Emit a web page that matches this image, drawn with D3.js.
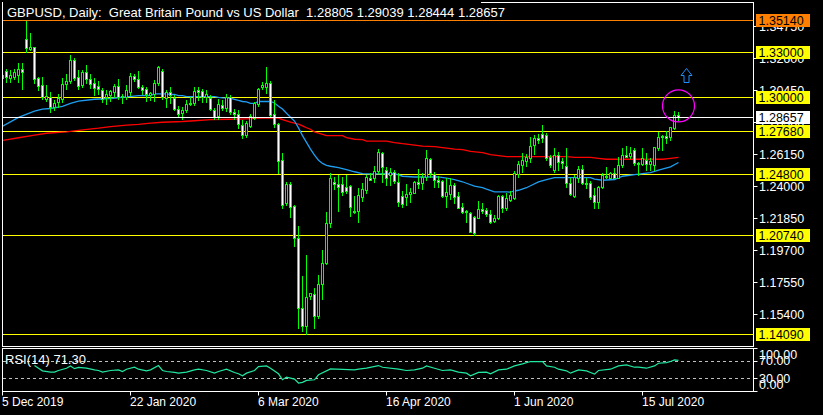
<!DOCTYPE html>
<html><head><meta charset="utf-8">
<script src="https://cdn.jsdelivr.net/npm/d3@7"></script>
<style>
html,body{margin:0;padding:0;background:#000;}
svg{display:block;}
text{font-family:"Liberation Sans",Arial,sans-serif;}
</style></head><body>
<svg id="chart" width="823" height="415"></svg>
<script>
// ---------- DATA ----------
const symbolTitle = "GBPUSD, Daily:  Great Britain Pound vs US Dollar";
const opens = [1.3127,1.3174,1.3127,1.3136,1.3148,1.3192,1.3393,1.3326,1.3333,1.3129,1.3081,1.2987,1.3002,1.2935,1.2965,1.2991,1.3087,1.3109,1.3248,1.3136,
1.3081,1.3166,1.3119,1.3092,1.3074,1.3047,1.3000,1.3014,1.3032,1.3074,1.3007,1.3002,1.3032,1.3141,1.3121,1.3069,1.3052,1.3014,1.3020,1.3092,
1.3174,1.2995,1.3032,1.2995,1.2924,1.2891,1.2913,1.2951,1.2958,1.3047,1.3040,1.3000,1.2995,1.2913,1.2875,1.2947,1.2928,1.3002,1.2898,1.2884,
1.2813,1.2746,1.2808,1.2861,1.2951,1.3069,1.3069,1.3092,1.2884,1.2817,1.2578,1.2292,1.2417,1.2270,1.2057,1.1584,1.1468,1.1667,1.1678,1.1535,
1.1745,1.1886,1.2154,1.2429,1.2415,1.2415,1.2395,1.2404,1.2238,1.2238,1.2332,1.2377,1.2455,1.2455,1.2504,1.2623,1.2511,1.2478,1.2500,1.2429,
1.2337,1.2332,1.2348,1.2359,1.2429,1.2422,1.2466,1.2583,1.2482,1.2444,1.2437,1.2339,1.2348,1.2410,1.2337,1.2261,1.2228,1.2221,1.2198,1.2191,
1.2247,1.2243,1.2216,1.2171,1.2187,1.2337,1.2258,1.2310,1.2325,1.2482,1.2544,1.2571,1.2593,1.2679,1.2728,1.2750,1.2746,1.2600,1.2511,1.2611,
1.2571,1.2538,1.2422,1.2339,1.2455,1.2518,1.2422,1.2422,1.2344,1.2298,1.2399,1.2471,1.2459,1.2489,1.2459,1.2544,1.2611,1.2605,1.2645,1.2551,
1.2551,1.2578,1.2551,1.2544,1.2656,1.2741,1.2739,1.2730,1.2790,1.28805];
const highs = [1.3168,1.3188,1.3181,1.3192,1.3226,1.3226,1.3514,1.3429,1.3337,1.3136,1.3134,1.3081,1.3032,1.2980,1.3022,1.3127,1.3154,1.3282,1.3263,1.3181,
1.3181,1.3215,1.3152,1.3129,1.3107,1.3060,1.3047,1.3047,1.3085,1.3121,1.3018,1.3081,1.3159,1.3152,1.3174,1.3081,1.3065,1.3032,1.3114,1.3210,
1.3188,1.3047,1.3069,1.3014,1.2942,1.2935,1.2980,1.3002,1.3065,1.3065,1.3058,1.3047,1.3014,1.2928,1.2987,1.2980,1.3018,1.3014,1.2924,1.2913,
1.2846,1.2839,1.2884,1.2969,1.3062,1.3101,1.3199,1.3109,1.2980,1.2824,1.2623,1.2429,1.2433,1.2277,1.2136,1.1801,1.1942,1.1687,1.1718,1.1808,
1.1975,1.2228,1.2489,1.2466,1.2477,1.2466,1.2477,1.2410,1.2338,1.2389,1.2426,1.2477,1.2489,1.2538,1.2650,1.2634,1.2529,1.2522,1.2511,1.2489,
1.2370,1.2415,1.2389,1.2437,1.2516,1.2489,1.2645,1.2593,1.2500,1.2473,1.2444,1.2455,1.2459,1.2422,1.2366,1.2288,1.2243,1.2228,1.2205,1.2303,
1.2288,1.2258,1.2243,1.2210,1.2344,1.2344,1.2355,1.2370,1.2504,1.2571,1.2623,1.2616,1.2734,1.2746,1.2752,1.2812,1.2759,1.2611,1.2656,1.2631,
1.2591,1.2656,1.2455,1.2477,1.2540,1.2544,1.2455,1.2437,1.2389,1.2405,1.2489,1.2533,1.2496,1.2522,1.2600,1.2656,1.2673,1.2667,1.2660,1.2567,
1.2656,1.2623,1.2589,1.2667,1.2768,1.2746,1.2772,1.2801,1.2906,1.29039];
const lows = [1.3101,1.3101,1.3101,1.3121,1.3103,1.3054,1.3304,1.3315,1.3094,1.3047,1.2987,1.2973,1.2902,1.2913,1.2935,1.2967,1.3054,1.3094,1.3114,1.3054,
1.3069,1.3092,1.3062,1.3014,1.3020,1.2967,1.2953,1.2975,1.3002,1.2991,1.2962,1.2987,1.3014,1.3109,1.3060,1.3018,1.2975,1.2980,1.2975,1.3081,
1.2987,1.2935,1.2960,1.2913,1.2868,1.2857,1.2902,1.2947,1.2947,1.2980,1.2969,1.2969,1.2913,1.2857,1.2857,1.2913,1.2906,1.2884,1.2857,1.2794,
1.2723,1.2734,1.2801,1.2857,1.2942,1.3058,1.3029,1.2864,1.2801,1.2489,1.2254,1.2277,1.2198,1.2002,1.1454,1.1434,1.1410,1.1647,1.1450,1.1517,
1.1645,1.1881,1.2131,1.2382,1.2238,1.2344,1.2355,1.2203,1.2222,1.2165,1.2305,1.2359,1.2444,1.2433,1.2489,1.2433,1.2410,1.2410,1.2422,1.2270,
1.2265,1.2277,1.2298,1.2355,1.2389,1.2384,1.2444,1.2466,1.2399,1.2399,1.2332,1.2265,1.2317,1.2288,1.2254,1.2221,1.2165,1.2094,1.2075,1.2187,
1.2221,1.2205,1.2158,1.2161,1.2183,1.2228,1.2243,1.2303,1.2317,1.2466,1.2500,1.2540,1.2566,1.2616,1.2692,1.2697,1.2578,1.2531,1.2498,1.2511,
1.2524,1.2399,1.2344,1.2332,1.2429,1.2415,1.2389,1.2317,1.2254,1.2258,1.2389,1.2459,1.2455,1.2455,1.2455,1.2533,1.2598,1.2591,1.2544,1.2478,
1.2544,1.2511,1.2511,1.2511,1.2645,1.2645,1.2690,1.2712,1.2784,1.28444];
const closes = [1.3148,1.3134,1.3148,1.3166,1.3192,1.3166,1.3330,1.3337,1.3125,1.3076,1.3002,1.3005,1.2935,1.2962,1.2995,1.3087,1.3109,1.3248,1.3129,1.3076,
1.3166,1.3119,1.3085,1.3062,1.3058,1.2991,1.3022,1.3040,1.3074,1.3002,1.2998,1.3047,1.3143,1.3123,1.3069,1.3047,1.3020,1.3025,1.3092,1.3203,
1.3002,1.3032,1.3014,1.2924,1.2884,1.2913,1.2951,1.2962,1.3040,1.3036,1.3002,1.3020,1.2924,1.2868,1.2951,1.2928,1.3002,1.2898,1.2884,1.2817,
1.2746,1.2824,1.2873,1.2958,1.3052,1.3081,1.3092,1.2880,1.2817,1.2573,1.2277,1.2417,1.2265,1.2057,1.1584,1.1468,1.1662,1.1685,1.1535,1.1745,
1.1886,1.2154,1.2456,1.2417,1.2399,1.2366,1.2372,1.2265,1.2227,1.2344,1.2382,1.2466,1.2448,1.2504,1.2630,1.2529,1.2455,1.2500,1.2439,1.2295,
1.2283,1.2350,1.2366,1.2429,1.2415,1.2466,1.2589,1.2489,1.2444,1.2429,1.2339,1.2362,1.2410,1.2332,1.2258,1.2232,1.2236,1.2098,1.2087,1.2247,
1.2236,1.2214,1.2165,1.2187,1.2339,1.2258,1.2321,1.2344,1.2489,1.2549,1.2578,1.2600,1.2672,1.2728,1.2712,1.2723,1.2591,1.2544,1.2611,1.2564,
1.2556,1.2422,1.2348,1.2466,1.2518,1.2422,1.2415,1.2332,1.2298,1.2399,1.2477,1.2466,1.2489,1.2459,1.2544,1.2611,1.2600,1.2623,1.2556,1.2560,
1.2589,1.2551,1.2573,1.2663,1.2730,1.2730,1.2723,1.2797,1.2880,1.28657];

// moving averages (bar index, value)
const maFastBars = [0,4,8,10,12,15,17,19,23,27,31,34,37,38,41,42,43,44,45,46,53,54,55,57,58,59,60,61,62,63,64,67,68,69,70,71,72,73,74,75,76,77,78,79,80,81,82,84,86,88,90,92,98,100,103,109,111,113,115,116,118,120,121,123,126,127,128,129,131,132,134,136,138,147,148,150,153,155,159,162,164,167,169];
const maFastVals = [1.2805,1.2864,1.2906,1.2920,1.2924,1.2939,1.2958,1.2973,1.2986,1.2991,1.3002,1.3011,1.3011,1.3022,1.3022,1.3018,1.3018,1.3011,1.3011,1.3004,1.3004,1.2998,1.2995,1.2993,1.2986,1.2978,1.2971,1.2968,1.2958,1.2958,1.2971,1.2971,1.2961,1.2939,1.2921,1.2892,1.2866,1.2840,1.2794,1.2742,1.2697,1.2652,1.2611,1.2577,1.2556,1.2543,1.2537,1.2528,1.2515,1.2500,1.2488,1.2486,1.2487,1.2470,1.2465,1.2465,1.2457,1.2447,1.2433,1.2423,1.2403,1.2393,1.2383,1.2365,1.2365,1.2363,1.2371,1.2376,1.2393,1.2406,1.2432,1.2448,1.2461,1.2461,1.2450,1.2443,1.2448,1.2470,1.2484,1.2494,1.2511,1.2533,1.2562];
const maSlowBars = [0,4,8,11,16,19,24,27,31,34,37,40,45,48,52,57,61,64,69,70,71,72,74,75,76,77,78,80,81,85,86,88,90,91,96,98,100,102,105,108,111,113,115,117,120,122,124,126,141,143,147,149,151,165,167,169];
const maSlowVals = [1.2710,1.2728,1.2745,1.2758,1.2767,1.2777,1.2792,1.2803,1.2812,1.2817,1.2826,1.2832,1.2837,1.2842,1.2850,1.2852,1.2855,1.2859,1.2859,1.2850,1.2841,1.2832,1.2819,1.2807,1.2795,1.2785,1.2767,1.2751,1.2742,1.2742,1.2729,1.2718,1.2715,1.2706,1.2706,1.2696,1.2688,1.2682,1.2672,1.2668,1.2659,1.2652,1.2648,1.2637,1.2628,1.2615,1.2608,1.2601,1.2601,1.2597,1.2597,1.2590,1.2584,1.2584,1.2590,1.2597];

// RSI(14) readings
const rsiBars = [8,9,10,12,13,14,16,17,18,19,21,23,24,25,27,29,30,31,33,34,36,37,39,40,41,43,44,46,48,49,51,53,54,56,58,59,60,61,63,64,66,67,69,70,71,72,73,74,75,76,78,79,82,85,88,89,91,94,95,99,101,103,105,106,108,110,112,114,116,117,119,121,122,124,126,128,130,132,135,136,138,139,141,142,144,146,147,148,149,152,154,156,158,159,161,163,164,166,167,168,169];
const rsiVals = [59.2,53.0,46.9,43.8,43.8,47.7,53.0,58.4,52.0,55.0,53.0,49.2,47.7,43.8,47.7,49.2,45.4,50.7,55.3,50.7,46.9,49.2,59.2,47.7,45.4,43.1,41.5,43.8,49.2,50.7,47.7,41.5,45.4,50.7,43.1,40.0,35.4,41.5,47.7,56.9,58.4,53.0,40.0,26.1,32.3,30.0,27.7,18.5,20.0,24.6,26.1,37.7,51.5,50.5,49.2,50.7,53.0,59.2,55.3,50.7,47.7,49.2,53.0,58.4,53.0,47.7,49.2,43.8,41.5,35.4,43.1,43.8,40.0,49.2,50.7,58.4,63.1,68.5,68.5,58.4,55.3,50.7,46.9,41.5,49.2,46.9,43.1,39.2,47.7,50.7,58.4,60.8,55.3,55.3,53.0,58.4,64.6,66.2,68.5,72.3,71.3];
const rsiLabel = "RSI(14) 71.30";
const rsiLevels = [70, 30];
const rsiAxisValues = [100, 70, 30, 0];

// horizontal levels
const highLevel = 1.35140;
const keyLevels = [1.33000, 1.30000, 1.27680, 1.24800, 1.20740, 1.14090];
const priceTicks = [1.34750,1.32600,1.30450,1.28300,1.26150,1.24000,1.21850,1.19700,1.17550,1.15400];

// date axis
const dateBars = [0, 32, 64, 96, 128, 160];
const dateLabels = ["5 Dec 2019","22 Jan 2020","6 Mar 2020","16 Apr 2020","1 Jun 2020","15 Jul 2020"];

// annotations
const arrowBar = 171, arrowPrice = 1.3198;
const circleBar = 169, circlePrice = 1.2941;

// ---------- DRAW ----------
const W = 823, H = 415;
const left = 2.5, right = 753.5, mainTop = 2.5, mainBottom = 346.5, rsiTop = 348.5, rsiBottom = 391.5;
const svg = d3.select("#chart");
svg.append("rect").attr("width", W).attr("height", H).attr("fill", "#000");

const x = d3.scaleLinear().domain([0, 169]).range([2.5, 678.5]);
const y = d3.scaleLinear().domain([1.14090, 1.35140]).range([334.5, 20.5]);
const ry = d3.scaleLinear().domain([0, 100]).range([391, 348]);
const snap = v => Math.floor(v) + 0.5;

const defs = svg.append("defs");
defs.append("clipPath").attr("id", "clipMain").append("rect")
  .attr("x", 3).attr("y", 3).attr("width", 750).attr("height", 343);
defs.append("clipPath").attr("id", "clipRsi").append("rect")
  .attr("x", 3).attr("y", 349).attr("width", 750).attr("height", 42);

// frames
svg.append("rect").attr("x", left).attr("y", mainTop).attr("width", right - left).attr("height", mainBottom - mainTop)
  .attr("fill", "none").attr("stroke", "#fff").attr("stroke-width", 1);
svg.append("rect").attr("x", left).attr("y", rsiTop).attr("width", right - left).attr("height", rsiBottom - rsiTop)
  .attr("fill", "none").attr("stroke", "#fff").attr("stroke-width", 1);

const main = svg.append("g").attr("clip-path", "url(#clipMain)");

// level lines
main.append("line").attr("x1", 3).attr("x2", 753).attr("y1", snap(y(highLevel))).attr("y2", snap(y(highLevel)))
  .attr("stroke", "#ff8000").attr("stroke-width", 1);
main.selectAll("line.lvl").data(keyLevels).join("line").attr("class", "lvl")
  .attr("x1", 3).attr("x2", 753).attr("y1", d => snap(y(d))).attr("y2", d => snap(y(d)))
  .attr("stroke", "#ffff00").attr("stroke-width", 1);

// moving averages
const lineGen = d3.line().x(d => x(d[0])).y(d => y(d[1]));
main.append("path").datum(maSlowBars.map((b, i) => [b, maSlowVals[i]]))
  .attr("d", lineGen).attr("fill", "none").attr("stroke", "#ff0000").attr("stroke-width", 1.3);
main.append("path").datum(maFastBars.map((b, i) => [b, maFastVals[i]]))
  .attr("d", lineGen).attr("fill", "none").attr("stroke", "#1e9ef0").attr("stroke-width", 1.3);

// candles
const bars = d3.range(opens.length).map(i => ({i, o: opens[i], h: highs[i], l: lows[i], c: closes[i]}));
const cg = main.append("g");
cg.selectAll("line.wick").data(bars).join("line").attr("class", "wick")
  .attr("x1", d => x(d.i)).attr("x2", d => x(d.i))
  .attr("y1", d => Math.round(y(d.h))).attr("y2", d => Math.round(y(d.l)) + 1)
  .attr("stroke", "#00ff00").attr("stroke-width", 1);
bars.forEach(d => {
  const top = Math.round(y(Math.max(d.o, d.c)));
  const bot = Math.round(y(Math.min(d.o, d.c)));
  const cx = x(d.i);
  if (bot - top < 1) {
    cg.append("line").attr("x1", cx - 1.5).attr("x2", cx + 1.5).attr("y1", top + 0.5).attr("y2", top + 0.5)
      .attr("stroke", "#00ff00").attr("stroke-width", 1);
  } else {
    cg.append("rect").attr("x", cx - 1).attr("y", top + 0.5).attr("width", 2).attr("height", bot - top)
      .attr("fill", d.c < d.o ? "#ffffff" : "#000000").attr("stroke", "#00ff00").attr("stroke-width", 1);
  }
});

// bid line (last close)
const lastPrice = closes[closes.length - 1];
main.append("line").attr("x1", 3).attr("x2", 753).attr("y1", snap(y(lastPrice))).attr("y2", snap(y(lastPrice)))
  .attr("stroke", "#ffffff").attr("stroke-width", 1);

// annotations
const ax = x(arrowBar), ay = Math.round(y(arrowPrice));
main.append("path")
  .attr("d", `M${ax},${ay + 0.5} L${ax + 5.5},${ay + 7.5} L${ax + 2.5},${ay + 7.5} L${ax + 2.5},${ay + 14.5} L${ax - 2.5},${ay + 14.5} L${ax - 2.5},${ay + 7.5} L${ax - 5.5},${ay + 7.5} Z`)
  .attr("fill", "#000").attr("stroke", "#1e90ff").attr("stroke-width", 1);
main.append("circle").attr("cx", x(circleBar)).attr("cy", y(circlePrice)).attr("r", 16)
  .attr("fill", "none").attr("stroke", "#ff00ff").attr("stroke-width", 1.2);

// title (drawn over the top frame edge on a black band)
svg.append("rect").attr("x", 3).attr("y", 0).attr("width", 478).attr("height", 19).attr("fill", "#000");
svg.append("text").attr("x", 7).attr("y", 16.5).attr("fill", "#fff").attr("font-size", 13)
  .style("white-space", "pre")
  .text(`${symbolTitle}  ${opens[169].toFixed(5)} ${highs[169].toFixed(5)} ${lows[169].toFixed(5)} ${closes[169].toFixed(5)}`);

// price axis
const axisG = svg.append("g");
priceTicks.forEach(p => {
  const py = snap(y(p));
  axisG.append("line").attr("x1", 753.5).attr("x2", 757.5).attr("y1", py).attr("y2", py).attr("stroke", "#fff");
  axisG.append("text").attr("x", 759).attr("y", py + 4.5).attr("fill", "#fff").attr("font-size", 12.5).text(p.toFixed(5));
});
function boxLabel(p, bg) {
  const py = snap(y(p));
  axisG.append("rect").attr("x", 756).attr("y", py - 6.5).attr("width", 54).attr("height", 13).attr("fill", bg);
  axisG.append("text").attr("x", 758.5).attr("y", py + 4.5).attr("fill", "#000").attr("font-size", 12.5).text(p.toFixed(5));
}
boxLabel(highLevel, "#ff8000");
keyLevels.forEach(p => boxLabel(p, "#ffff00"));
boxLabel(lastPrice, "#ffffff");

// RSI panel
const rg = svg.append("g").attr("clip-path", "url(#clipRsi)");
rg.selectAll("line.rl").data(rsiLevels).join("line").attr("class", "rl")
  .attr("x1", 3).attr("x2", 753).attr("y1", d => Math.round(ry(d)) + 0.5).attr("y2", d => Math.round(ry(d)) + 0.5)
  .attr("stroke", "#c0c0c0").attr("stroke-width", 1).attr("stroke-dasharray", "3,3");
rg.append("path").datum(rsiBars.map((b, i) => [b, rsiVals[i]]))
  .attr("d", d3.line().x(d => x(d[0])).y(d => ry(d[1])))
  .attr("fill", "none").attr("stroke", "#20e8a0").attr("stroke-width", 1.2);
svg.append("text").attr("x", 5).attr("y", 364).attr("fill", "#fff").attr("font-size", 13).text(rsiLabel);
rsiAxisValues.forEach(v => {
  const ty = Math.round(ry(v)) + 0.5;
  svg.append("line").attr("x1", 753.5).attr("x2", 757.5).attr("y1", ty).attr("y2", ty).attr("stroke", "#fff");
  const cy = Math.max(354, Math.min(384.5, ry(v)));
  svg.append("text").attr("x", 759).attr("y", cy + 4.5).attr("fill", "#fff").attr("font-size", 12.5).text(v.toFixed(2));
});

// date axis
dateBars.forEach((b, k) => {
  svg.append("line").attr("x1", x(b)).attr("x2", x(b)).attr("y1", 391.5).attr("y2", 395.5).attr("stroke", "#fff");
  svg.append("text").attr("x", x(b) - 0.5).attr("y", 406).attr("fill", "#fff").attr("font-size", 12).text(dateLabels[k]);
});
</script>
</body></html>
